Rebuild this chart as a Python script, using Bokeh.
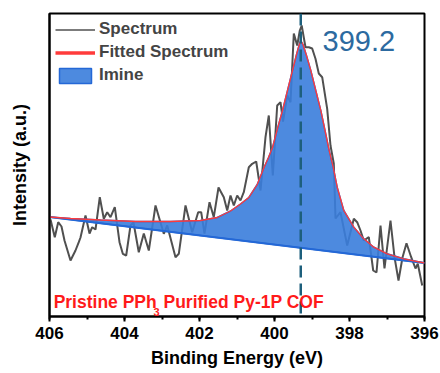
from bokeh.plotting import figure
from bokeh.models import Range1d, Span, Label, Legend, LegendItem, SingleIntervalTicker
from bokeh.embed import file_html
from bokeh.resources import INLINE

# ---- data ----
spec_E = [405.973, 405.859, 405.768, 405.68, 405.60, 405.44, 405.307, 405.219, 405.173, 405.04,
          404.933, 404.861, 404.773, 404.659, 404.552, 404.461, 404.373, 404.259, 404.133, 404.045,
          403.955, 403.84, 403.76, 403.619, 403.485, 403.352, 403.173, 402.952, 402.861, 402.64,
          402.552, 402.373, 402.195, 402.035, 401.955, 401.867, 401.733, 401.619, 401.493, 401.352,
          401.261, 401.173, 401.085, 400.995, 400.907, 400.819, 400.685, 400.595, 400.488, 400.373,
          400.24, 400.152, 400.045, 399.928, 399.84, 399.773, 399.661, 399.573, 399.485, 399.395,
          399.325, 399.275, 399.219, 399.173, 399.085, 398.995, 398.907, 398.819, 398.728, 398.595,
          398.507, 398.419, 398.373, 398.24, 398.061, 397.885, 397.795, 397.707, 397.619, 397.485,
          397.368, 397.28, 397.173, 397.067, 396.907, 396.8, 396.693, 396.587, 396.48, 396.355,
          396.24, 396.179, 396.061]
spec_I = [97, 79.3, 94.3, 90, 76, 56, 66, 74.3, 79, 101,
          83, 89.3, 87, 119.3, 97.7, 104.3, 99.3, 109.3, 74.3, 62.7,
          61, 91, 94, 64.3, 83, 66, 111, 82.7, 91, 59.3,
          62.7, 111, 84.3, 104.3, 104.3, 83, 114.3, 99.3, 129, 119.3,
          106, 121, 111, 121, 116, 124.3, 149.3, 152.7, 155, 126,
          179.3, 201, 141, 211, 214.3, 195, 221, 214.3, 283, 271,
          286, 291, 279, 269.3, 269.3, 268, 257.7, 243, 239.3, 207.7,
          171, 153, 98, 104.3, 71, 97.7, 94.3, 86, 76, 79.3,
          46, 44, 91, 48, 96, 59.3, 36, 59, 73.3, 59.3,
          48, 52.7, 31]

fit_E = [406.0, 405.44, 404.64, 403.707, 402.773, 401.973, 401.528, 401.173, 400.907, 400.685,
         400.461, 400.28, 400.16, 400.053, 399.92, 399.787, 399.653, 399.52, 399.413, 399.347,
         399.299, 399.24, 399.147, 399.032, 398.899, 398.765, 398.653, 398.541, 398.435, 398.328,
         398.152, 397.885, 397.619, 397.352, 396.995, 396.552, 396.0]
fit_I = [99.5, 98, 96.5, 95, 95, 96, 99, 105.5, 112.5, 119,
         132, 149, 159, 169, 188, 206, 226, 246, 262, 271,
         276, 272, 261, 246, 226, 206, 186, 166, 149.3, 129.3,
         106, 89.3, 77.7, 69.3, 62.7, 57.7, 53.5]

base_E = [406.0, 396.0]
base_I = [99.5, 53.5]

peak_pos = 399.3
peak_label = "399.2"

FONT = "Liberation Sans"

p = figure(width=440, height=373, x_range=Range1d(406, 396), y_range=Range1d(0, 303),
           output_backend="svg", toolbar_location=None,
           min_border_left=49, min_border_right=16, min_border_top=13, min_border_bottom=57)
p.background_fill_color = "white"
p.border_fill_color = "white"
p.outline_line_color = "black"
p.outline_line_width = 2
p.grid.visible = False

# x axis
xa = p.xaxis[0]
xa.ticker = SingleIntervalTicker(interval=2, num_minor_ticks=2)
xa.axis_label = "Binding Energy (eV)"
xa.axis_label_text_font = FONT
xa.axis_label_text_font_style = "bold"
xa.axis_label_text_font_size = "18px"
xa.axis_label_text_color = "black"
xa.axis_label_standoff = 6
xa.major_label_text_font = FONT
xa.major_label_text_font_style = "bold"
xa.major_label_text_font_size = "17px"
xa.major_label_text_color = "black"
xa.major_label_standoff = 5
xa.axis_line_width = 2
xa.major_tick_line_width = 2
xa.minor_tick_line_width = 2
xa.major_tick_out = 5
xa.major_tick_in = 0
xa.minor_tick_out = 3
xa.minor_tick_in = 0

# y axis
ya = p.yaxis[0]
ya.axis_label = "Intensity (a.u.)"
ya.axis_label_text_font = FONT
ya.axis_label_text_font_style = "bold"
ya.axis_label_text_font_size = "18px"
ya.axis_label_text_color = "black"
ya.axis_label_standoff = 14
ya.major_label_text_font_size = "0px"
ya.major_label_standoff = 0
ya.major_tick_line_color = None
ya.minor_tick_line_color = None
ya.axis_line_width = 2

# spectrum
spec_r = p.line(spec_E, spec_I, line_color="#505050", line_width=2)

# imine component (fill between fitted curve and the linear baseline)
imine_r = p.patch(fit_E, fit_I, fill_color="#3a7ddc", fill_alpha=0.9,
                  line_color="#2468d6", line_width=1.5)
p.line(base_E, base_I, line_color="#2468d6", line_width=2)

# fitted spectrum
p.line(fit_E, fit_I, line_color="#ff3b3b", line_width=1.3)

# legend-only proxies (outside the visible range)
fit_leg = p.line([500, 501], [500, 501], line_color="#ff3b3b", line_width=3.5)
spec_leg = p.line([500, 501], [500, 501], line_color="#505050", line_width=1.5)

# dashed peak marker
p.add_layout(Span(location=peak_pos, dimension="height", line_color="#1d5f7c",
                  line_width=2.5, line_dash="12 6"))
p.add_layout(Label(x=398.72, y=266, text=peak_label, text_font=FONT,
                   text_font_size="29px", text_color="#2c6aa0"))

# sample label (with subscript)
p.add_layout(Label(x=405.89, y=5, text="Pristine PPh", text_font=FONT, text_font_style="bold",
                   text_font_size="17.5px", text_color="#ff1a1a"))
p.add_layout(Label(x=403.23, y=0.5, text="3", text_font=FONT, text_font_style="bold",
                   text_font_size="11px", text_color="#ff1a1a"))
p.add_layout(Label(x=402.96, y=5, text="Purified Py-1P COF", text_font=FONT, text_font_style="bold",
                   text_font_size="17.5px", text_color="#ff1a1a"))

legend = Legend(items=[LegendItem(label="Spectrum", renderers=[spec_leg]),
                       LegendItem(label="Fitted Spectrum", renderers=[fit_leg]),
                       LegendItem(label="Imine", renderers=[imine_r])],
                location="top_left")
legend.border_line_color = None
legend.background_fill_alpha = 0
legend.label_text_font = FONT
legend.label_text_font_style = "bold"
legend.label_text_font_size = "17px"
legend.glyph_width = 40
legend.glyph_height = 19
legend.label_height = 19
legend.spacing = 3
legend.padding = 5
legend.margin = 6
legend.label_standoff = 4
p.add_layout(legend)

open("out.html", "w").write(file_html(p, INLINE))
